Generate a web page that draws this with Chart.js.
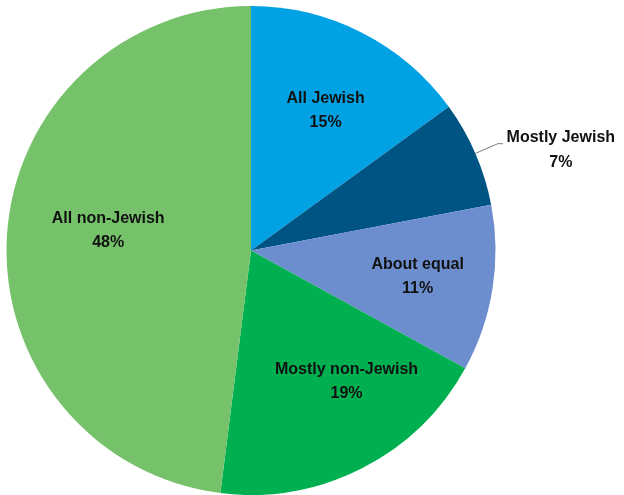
<!DOCTYPE html>
<html>
<head>
<meta charset="utf-8">
<script src="https://cdn.jsdelivr.net/npm/chart.js@4.4.1/dist/chart.umd.min.js"></script>
<style>
  html, body { margin: 0; padding: 0; background: #ffffff; }
  #wrap { width: 624px; height: 495px; position: relative; }
</style>
</head>
<body>
<div id="wrap"><canvas id="pie"></canvas></div>
<script>
// Share of friends who are Jewish
const categories = ['All Jewish', 'Mostly Jewish', 'About equal', 'Mostly non-Jewish', 'All non-Jewish'];
const shares = [15, 7, 11, 19, 48];
const sliceColors = ['#00A2E4', '#005483', '#6C8DCE', '#00B050', '#75C26A'];

// Where each label sits: angle shift from the slice middle (degrees) and distance as a fraction of radius
const labelPlacement = [
  { shift: 1,  r: 0.65, outside: false },
  { shift: 0,  r: 1.10, outside: true },
  { shift: 0,  r: 0.69, outside: false },
  { shift: -9, r: 0.665, outside: false },
  { shift: 4.5, r: 0.59, outside: false }
];

const sliceLabels = {
  id: 'sliceLabels',
  afterDatasetsDraw(chart) {
    const ctx = chart.ctx;
    const meta = chart.getDatasetMeta(0);
    ctx.save();
    ctx.font = 'bold 16px "Liberation Sans", Arial, sans-serif';
    ctx.fillStyle = '#111111';
    ctx.textAlign = 'center';
    ctx.textBaseline = 'middle';
    meta.data.forEach((arc, i) => {
      const p = labelPlacement[i];
      const mid = (arc.startAngle + arc.endAngle) / 2 + p.shift * Math.PI / 180;
      const R = arc.outerRadius;
      const text1 = categories[i];
      const text2 = shares[i] + '%';
      if (p.outside) {
        const sx = arc.x + Math.cos(mid) * R;
        const sy = arc.y + Math.sin(mid) * R;
        const ex = arc.x + Math.cos(mid) * R * p.r;
        const ey = arc.y + Math.sin(mid) * R * p.r;
        ctx.strokeStyle = '#7a7a7a';
        ctx.lineWidth = 1;
        ctx.beginPath();
        ctx.moveTo(sx, sy);
        ctx.lineTo(ex, ey);
        ctx.lineTo(ex + 5, ey);
        ctx.stroke();
        const tx = ex + 63;
        ctx.fillText(text1, tx, ey - 6);
        ctx.fillText(text2, tx, ey + 19);
      } else {
        const cx = arc.x + Math.cos(mid) * R * p.r;
        const cy = arc.y + Math.sin(mid) * R * p.r;
        ctx.fillText(text1, cx, cy - 12);
        ctx.fillText(text2, cx, cy + 12);
      }
    });
    ctx.restore();
  }
};

new Chart(document.getElementById('pie'), {
  type: 'pie',
  data: {
    labels: categories,
    datasets: [{
      data: shares,
      backgroundColor: sliceColors,
      borderWidth: 0,
      hoverOffset: 0
    }]
  },
  options: {
    responsive: true,
    maintainAspectRatio: false,
    animation: false,
    layout: { padding: { left: 6, right: 128, top: 6, bottom: -1 } },
    plugins: {
      legend: { display: false },
      tooltip: { enabled: false }
    }
  },
  plugins: [sliceLabels]
});
</script>
</body>
</html>
